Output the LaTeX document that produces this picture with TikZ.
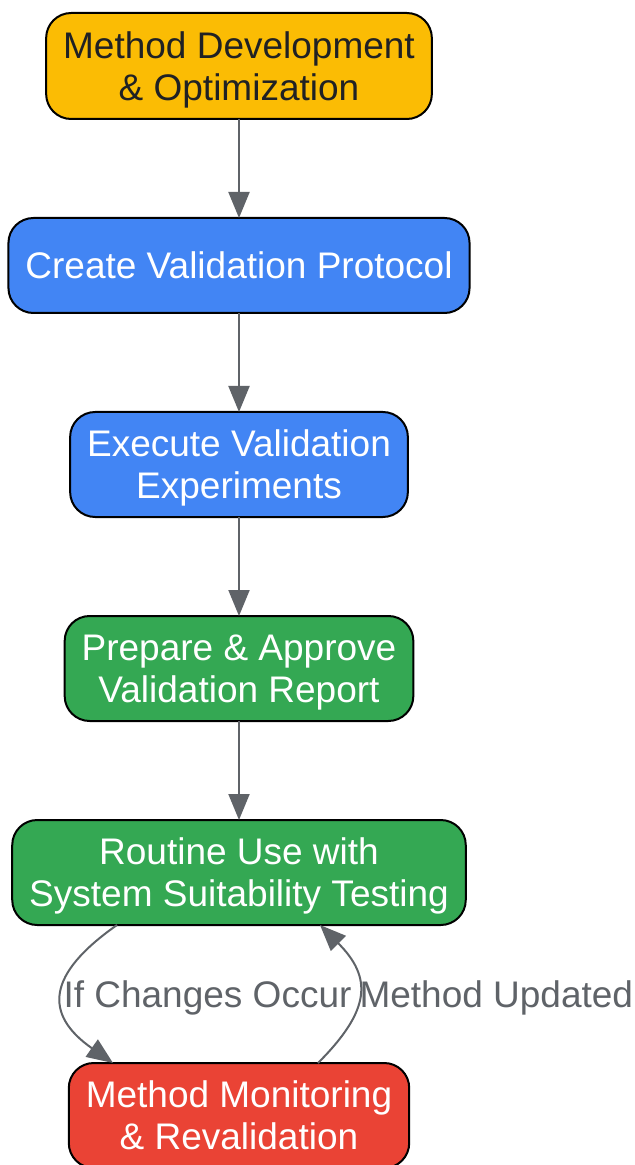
\documentclass[tikz,border=0pt]{standalone}
\usepackage{fontspec}
\setmainfont{Liberation Sans}
\usepackage{xcolor}
\definecolor{Amber}{HTML}{FBBC04}
\definecolor{Google Blue}{HTML}{4285F4}
\definecolor{Google Green}{HTML}{34A853}
\definecolor{Google Red}{HTML}{EA4335}
\definecolor{Slate}{HTML}{5F6368}
\definecolor{Ink}{HTML}{202124}
\usetikzlibrary{positioning, arrows.meta}
\tikzset{
	node distance = 49.5pt,
	font = \fontsize{18.5}{21}\selectfont,
	stage/.style={
		draw=black,
		line width=1pt,
		rounded corners=12.5pt,
		align=center,
		inner xsep=8.5pt,
		inner ysep=0pt,
		outer sep=0pt,
		text depth=0pt,
		minimum height=52.5pt,
		text=white
	},
	edge/.style={
		draw=Slate,
		line width=1pt,
		-{Triangle[length=13pt, width=10.5pt]}
	},
	edge label/.style={
		text=Slate,
		inner sep=0pt,
		yshift=-2pt
	}
}

\begin{document}
\begin{tikzpicture}[x=0.5pt, y=-0.5pt]
		\useasboundingbox (0,0) rectangle (635,1165);

		\node[stage, fill=Amber, text=Ink, minimum height=53pt] (dev) at (239,66) {Method Development\\\& Optimization};
		\node[stage, fill=Google Blue, minimum height=47.5pt, below=of dev] (protocol) {Create Validation Protocol};
		\node[stage, fill=Google Blue, below=of protocol] (execute) {Execute Validation\\Experiments};
		\node[stage, fill=Google Green, below=of execute] (report) {Prepare \& Approve\\Validation Report};
		\node[stage, fill=Google Green, below=of report] (routine) {Routine Use with\\System Suitability Testing};
		\node[stage, fill=Google Red, below=69pt of routine] (monitor) {Method Monitoring\\\& Revalidation};

		\draw[edge] (dev) -- (protocol);
		\draw[edge] (protocol) -- (execute);
		\draw[edge] (execute) -- (report);
		\draw[edge] (report) -- (routine);

		% loop between routine use and revalidation
		\draw[edge] ([xshift=-61pt]routine.south) to[out=-145, in=145, looseness=1.58]
			node[edge label, anchor=west] (changes) {If Changes Occur} ([xshift=-63pt]monitor.north);
		\draw[edge] ([xshift=39.5pt]monitor.north) to[out=45, in=-45, looseness=1.38]
			node[edge label, anchor=west] (updated) {Method Updated} ([xshift=40.5pt]routine.south);
	\end{tikzpicture}
\end{document}
